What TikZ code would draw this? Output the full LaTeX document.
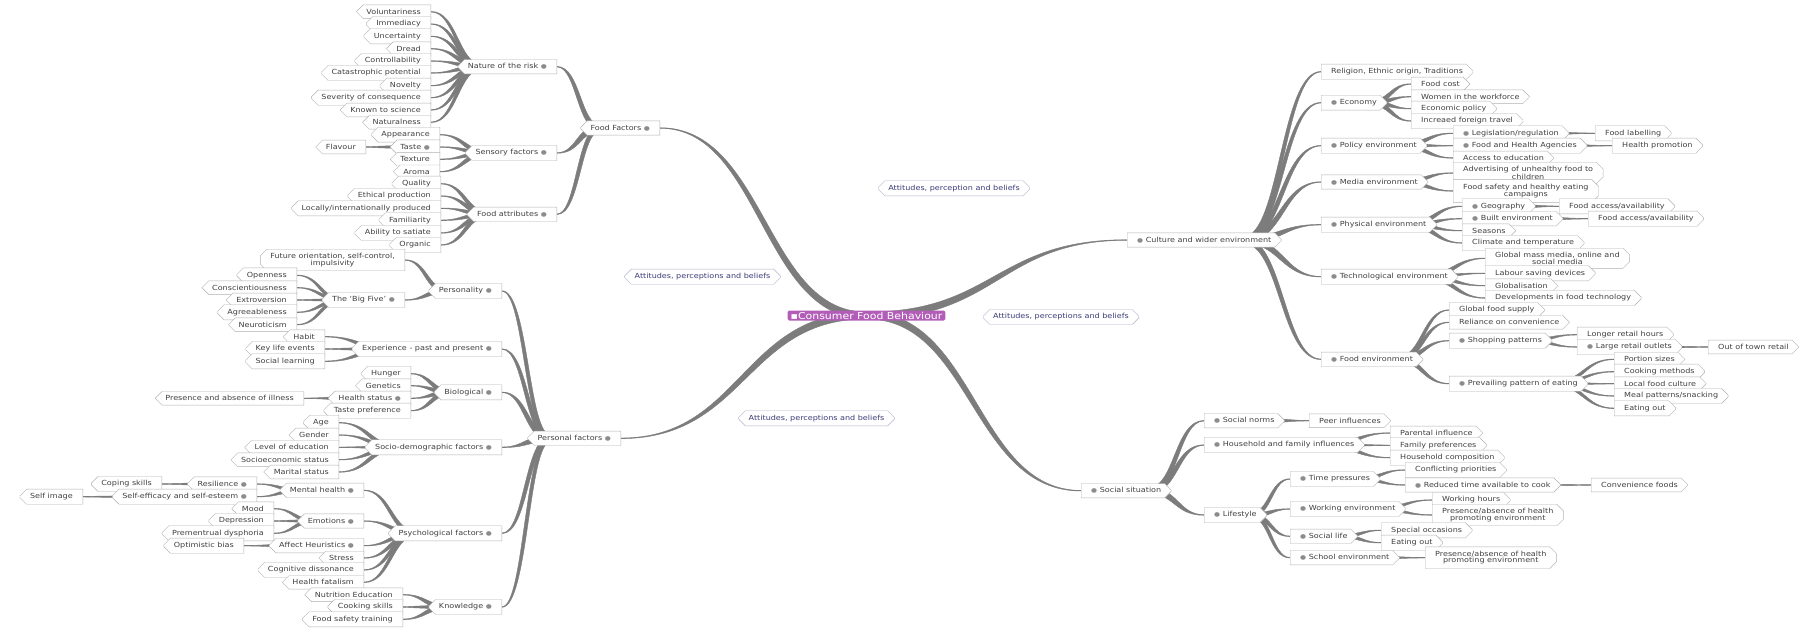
\documentclass[tikz,border=0pt]{standalone}
\usepackage{fontspec}
\setmainfont{DejaVu Sans}[FakeStretch=1.15]
\usetikzlibrary{shapes.misc,calc,backgrounds}

\definecolor{rootfill}{HTML}{B25EB8}
\definecolor{attink}{HTML}{3B3B78}
\definecolor{twiggray}{HTML}{7C7C7C}

\newcommand{\knob}{\textcolor{black!45}{\fontsize{6}{6}\selectfont ●}}
% tapered branch: half width, hub, tip
\newcommand{\twig}[3]{%
  \fill[branch] let \p1=(#2), \p2=(#3), \n1={0.5*(\x1+\x2)},
      \n2={-sign(\y2-\y1)*sign(\x2-\x1)*0.65*#1} in
    (\x1,\y1+#1) .. controls (\n1+\n2,\y1+#1) and (\n1+\n2,\y2+0.3pt) .. (\x2,\y2+0.3pt)
    -- (\x2,\y2-0.3pt) .. controls (\n1-\n2,\y2-0.3pt) and (\n1-\n2,\y1-#1) .. (\x1,\y1-#1) -- cycle;}
\newcommand{\twigL}[3][2.2pt]{\twig{#1}{$(#2.west)!0.25!(#2.east)$}{#3.east}}
\newcommand{\twigR}[3][2.2pt]{\twig{#1}{$(#2.east)!0.25!(#2.west)$}{#3.west}}

\tikzset{
  topic/.style={chamfered rectangle, chamfered rectangle xsep=3pt,
    draw=black!30, fill=white, line width=0.4pt, text=black!75,
    font=\fontsize{7}{6.5}\selectfont, align=center,
    inner xsep=7pt, inner ysep=0.5pt, minimum height=9pt},
  lt/.style={topic, chamfered rectangle corners={north west,south west}, anchor=east},
  rt/.style={topic, chamfered rectangle corners={north east,south east}, anchor=west},
  attnote/.style={topic, draw=attink!40, text=attink},
  root/.style={rectangle, rounded corners=1.5pt, fill=rootfill, text=white,
    font=\fontsize{9.5}{9.5}\selectfont, inner xsep=3pt, inner ysep=0.5pt, minimum height=10pt},
  branch/.style={fill=twiggray, draw=twiggray, line width=0.4pt},
}

\begin{document}
\begin{tikzpicture}[x=1pt,y=-1pt]
\useasboundingbox (0,0) rectangle (1809,627);

\node[root] (cfb) at (866.5,315.5) {\textcolor{white}{▪}Consumer Food Behaviour};

% attitudes notes
\node[attnote] (an1) at (954,188.3) {Attitudes, perception and beliefs};
\node[attnote] (an2) at (702.5,276.7) {Attitudes, perceptions and beliefs};
\node[attnote] (an3) at (1061,317) {Attitudes, perceptions and beliefs};
\node[attnote] (an4) at (816.5,418.3) {Attitudes, perceptions and beliefs};

% food factors
\node[lt] (ff) at (660,128) {Food Factors \knob};
\node[lt] (nat) at (557,66.7) {Nature of the risk \knob};
\node[lt] (vol) at (431,11.7) {Voluntariness};
\node[lt] (imm) at (431,24) {Immediacy};
\node[lt] (unc) at (431,36.3) {Uncertainty};
\node[lt] (dre) at (431,48.7) {Dread};
\node[lt] (con) at (431,61) {Controllability};
\node[lt] (cat) at (431,73) {Catastrophic potential};
\node[lt] (nov) at (431,85.7) {Novelty};
\node[lt] (sev) at (431,97.7) {Severity of consequence};
\node[lt] (kno) at (431,110) {Known to science};
\node[lt] (natu) at (431,122.3) {Naturalness};
\node[lt] (sen) at (557,153) {Sensory factors \knob};
\node[lt] (app) at (440,134.7) {Appearance};
\node[lt] (tas) at (440,147) {Taste \knob};
\node[lt] (fla) at (366,147) {Flavour};
\node[lt] (tex) at (440,159.3) {Texture};
\node[lt] (aro) at (440,171.7) {Aroma};
\node[lt] (fatt) at (557,214.3) {Food attributes \knob};
\node[lt] (qua) at (441,183.7) {Quality};
\node[lt] (eth) at (441,196) {Ethical production};
\node[lt] (loc) at (441,208.3) {Locally/internationally produced};
\node[lt] (fam) at (441,220.3) {Familiarity};
\node[lt] (abi) at (441,233) {Ability to satiate};
\node[lt] (org) at (441,245) {Organic};

% personal factors
\node[lt] (pf) at (621,438.3) {Personal factors \knob};
\node[lt] (per) at (502,291) {Personality \knob};
\node[lt] (fut) at (405,260) {Future orientation, self-control,\\impulsivity};
\node[lt] (big) at (405,300) {The `Big Five' \knob};
\node[lt] (ope) at (297,275.3) {Openness};
\node[lt] (cons) at (297,287.7) {Conscientiousness};
\node[lt] (ext) at (297,300) {Extroversion};
\node[lt] (agr) at (297,312.3) {Agreeableness};
\node[lt] (neu) at (297,324.7) {Neuroticism};
\node[lt] (exp) at (502,349) {Experience - past and present \knob};
\node[lt] (hab) at (325,336.7) {Habit};
\node[lt] (key) at (325,349) {Key life events};
\node[lt] (sle) at (325,361.3) {Social learning};
\node[lt] (bio) at (502,392.3) {Biological \knob};
\node[lt] (hun) at (411,373.7) {Hunger};
\node[lt] (gen) at (411,385.7) {Genetics};
\node[lt] (hea) at (411,398.3) {Health status \knob};
\node[lt] (pre) at (304,398.3) {Presence and absence of illness};
\node[lt] (tpr) at (411,410.7) {Taste preference};
\node[lt] (sdf) at (502,447.3) {Socio-demographic factors \knob};
\node[lt] (age) at (339,422.7) {Age};
\node[lt] (gend) at (339,435) {Gender};
\node[lt] (edu) at (339,447.3) {Level of education};
\node[lt] (ses) at (339,459.7) {Socioeconomic status};
\node[lt] (mar) at (339,472) {Marital status};
\node[lt] (psy) at (502,533.3) {Psychological factors \knob};
\node[lt] (men) at (364,490.3) {Mental health \knob};
\node[lt] (res) at (257,484) {Resilience \knob};
\node[lt] (cop) at (162,484) {Coping skills};
\node[lt] (sef) at (257,496.7) {Self-efficacy and self-esteem \knob};
\node[lt] (sim) at (83,496.7) {Self image};
\node[lt] (emo) at (364,521) {Emotions \knob};
\node[lt] (moo) at (274,508.7) {Mood};
\node[lt] (dep) at (274,521) {Depression};
\node[lt] (pmd) at (274,533.3) {Prementrual dysphoria};
\node[lt] (aff) at (364,545.7) {Affect Heuristics \knob};
\node[lt] (opt) at (244,545.7) {Optimistic bias};
\node[lt] (str) at (364,558) {Stress};
\node[lt] (cog) at (364,570) {Cognitive dissonance};
\node[lt] (hfat) at (364,582.3) {Health fatalism};
\node[lt] (know) at (502,607) {Knowledge \knob};
\node[lt] (nut) at (403,594.7) {Nutrition Education};
\node[lt] (coo) at (403,607) {Cooking skills};
\node[lt] (fst) at (403,619.3) {Food safety training};

% culture and wider environment
\node[rt] (cul) at (1127,240) {\knob{} Culture and wider environment};
\node[rt] (rel) at (1321,71.7) {Religion, Ethnic origin, Traditions};
\node[rt] (eco) at (1321,102.7) {\knob{} Economy};
\node[rt] (fco) at (1411,84) {Food cost};
\node[rt] (wom) at (1411,96.7) {Women in the workforce};
\node[rt] (epo) at (1411,108.7) {Economic policy};
\node[rt] (ift) at (1411,121) {Increaed foreign travel};
\node[rt] (pol) at (1321,145.7) {\knob{} Policy environment};
\node[rt] (leg) at (1453,133.3) {\knob{} Legislation/regulation};
\node[rt] (lab) at (1595,133.3) {Food labelling};
\node[rt] (fha) at (1453,145.7) {\knob{} Food and Health Agencies};
\node[rt] (hpr) at (1612,145.7) {Health promotion};
\node[rt] (acc) at (1453,158) {Access to education};
\node[rt] (med) at (1321,182) {\knob{} Media environment};
\node[rt] (adv) at (1453,173) {Advertising of unhealthy food to\\children};
\node[rt] (fsh) at (1453,191) {Food safety and healthy eating\\campaigns};
\node[rt] (phy) at (1321,224.7) {\knob{} Physical environment};
\node[rt] (geo) at (1462,206.3) {\knob{} Geography};
\node[rt] (fa1) at (1559,206.3) {Food access/availability};
\node[rt] (bui) at (1462,218.7) {\knob{} Built environment};
\node[rt] (fa2) at (1588,218.7) {Food access/availability};
\node[rt] (sea) at (1462,230.7) {Seasons};
\node[rt] (cli) at (1462,243) {Climate and temperature};
\node[rt] (tec) at (1321,276.7) {\knob{} Technological environment};
\node[rt] (gmm) at (1485,258.3) {Global mass media, online and\\social media};
\node[rt] (lsd) at (1485,273.3) {Labour saving devices};
\node[rt] (glo) at (1485,285.7) {Globalisation};
\node[rt] (dev) at (1485,298) {Developments in food technology};
\node[rt] (fen) at (1321,359.3) {\knob{} Food environment};
\node[rt] (gfs) at (1449,310) {Global food supply};
\node[rt] (rco) at (1449,322.3) {Reliance on convenience};
\node[rt] (sho) at (1449,340.7) {\knob{} Shopping patterns};
\node[rt] (lrh) at (1577,334.7) {Longer retail hours};
\node[rt] (lro) at (1577,347) {\knob{} Large retail outlets};
\node[rt] (oot) at (1708,347) {Out of town retail};
\node[rt] (ppe) at (1449,383.7) {\knob{} Prevailing pattern of eating};
\node[rt] (por) at (1614,359.3) {Portion sizes};
\node[rt] (cme) at (1614,371.7) {Cooking methods};
\node[rt] (lfc) at (1614,383.7) {Local food culture};
\node[rt] (mps) at (1614,396) {Meal patterns/snacking};
\node[rt] (eao) at (1614,408.3) {Eating out};

% social situation
\node[rt] (sit) at (1081,490.7) {\knob{} Social situation};
\node[rt] (sno) at (1204,420.7) {\knob{} Social norms};
\node[rt] (pin) at (1309,420.7) {Peer influences};
\node[rt] (hfi) at (1204,445) {\knob{} Household and family influences};
\node[rt] (pai) at (1390,433) {Parental influence};
\node[rt] (fpr) at (1390,445.3) {Family preferences};
\node[rt] (hco) at (1390,457.7) {Household composition};
\node[rt] (lif) at (1204,515) {\knob{} Lifestyle};
\node[rt] (tim) at (1290,479) {\knob{} Time pressures};
\node[rt] (cpr) at (1405,470) {Conflicting priorities};
\node[rt] (rtc) at (1405,485) {\knob{} Reduced time available to cook};
\node[rt] (cfo) at (1591,485) {Convenience foods};
\node[rt] (wen) at (1290,509) {\knob{} Working environment};
\node[rt] (who) at (1432,500) {Working hours};
\node[rt] (pah1) at (1432,515) {Presence/absence of health\\promoting environment};
\node[rt] (sli) at (1290,536.3) {\knob{} Social life};
\node[rt] (spo) at (1381,530.3) {Special occasions};
\node[rt] (eao2) at (1381,542.7) {Eating out};
\node[rt] (sch) at (1290,557.7) {\knob{} School environment};
\node[rt] (pah2) at (1425,557.7) {Presence/absence of health\\promoting environment};

\begin{pgfonlayer}{background}
\fill[white] (0,0) rectangle (1809,627);
% main branches
\twig{3.5pt}{cfb.center}{ff.east}
\twig{3.5pt}{cfb.center}{pf.east}
\twig{3.5pt}{cfb.center}{cul.west}
\twig{3.5pt}{cfb.center}{sit.west}
% second level
\foreach \c in {nat,sen,fatt} \twigL[3pt]{ff}{\c};
\foreach \c in {per,exp,bio,sdf,psy,know} \twigL[3pt]{pf}{\c};
\foreach \c in {rel,eco,pol,med,phy,tec,fen} \twigR[3pt]{cul}{\c};
\foreach \c in {sno,hfi,lif} \twigR[3pt]{sit}{\c};
% third level
\foreach \c in {vol,imm,unc,dre,con,cat,nov,sev,kno,natu} \twigL{nat}{\c};
\foreach \c in {app,tas,tex,aro} \twigL{sen}{\c};
\foreach \c in {qua,eth,loc,fam,abi,org} \twigL{fatt}{\c};
\foreach \c in {fut,big} \twigL{per}{\c};
\foreach \c in {hab,key,sle} \twigL{exp}{\c};
\foreach \c in {hun,gen,hea,tpr} \twigL{bio}{\c};
\foreach \c in {age,gend,edu,ses,mar} \twigL{sdf}{\c};
\foreach \c in {men,emo,aff,str,cog,hfat} \twigL{psy}{\c};
\foreach \c in {nut,coo,fst} \twigL{know}{\c};
\foreach \c in {fco,wom,epo,ift} \twigR{eco}{\c};
\foreach \c in {leg,fha,acc} \twigR{pol}{\c};
\foreach \c in {adv,fsh} \twigR{med}{\c};
\foreach \c in {geo,bui,sea,cli} \twigR{phy}{\c};
\foreach \c in {gmm,lsd,glo,dev} \twigR{tec}{\c};
\foreach \c in {gfs,rco,sho,ppe} \twigR{fen}{\c};
\foreach \c in {pin} \twigR{sno}{\c};
\foreach \c in {pai,fpr,hco} \twigR{hfi}{\c};
\foreach \c in {tim,wen,sli,sch} \twigR{lif}{\c};
% fourth level
\twigL[1.7pt]{tas}{fla}
\foreach \c in {ope,cons,ext,agr,neu} \twigL[1.7pt]{big}{\c};
\twigL[1.7pt]{hea}{pre}
\foreach \c in {res,sef} \twigL[1.7pt]{men}{\c};
\foreach \c in {moo,dep,pmd} \twigL[1.7pt]{emo}{\c};
\twigL[1.7pt]{aff}{opt}
\twigR[1.7pt]{leg}{lab}
\twigR[1.7pt]{fha}{hpr}
\twigR[1.7pt]{geo}{fa1}
\twigR[1.7pt]{bui}{fa2}
\foreach \c in {lrh,lro} \twigR[1.7pt]{sho}{\c};
\foreach \c in {por,cme,lfc,mps,eao} \twigR[1.7pt]{ppe}{\c};
\foreach \c in {cpr,rtc} \twigR[1.7pt]{tim}{\c};
\foreach \c in {who,pah1} \twigR[1.7pt]{wen}{\c};
\foreach \c in {spo,eao2} \twigR[1.7pt]{sli}{\c};
\twigR[1.7pt]{sch}{pah2}
% fifth level
\twigL[1.3pt]{res}{cop}
\twigL[1.3pt]{sef}{sim}
\twigR[1.3pt]{lro}{oot}
\twigR[1.3pt]{rtc}{cfo}
\end{pgfonlayer}
\end{tikzpicture}
\end{document}
